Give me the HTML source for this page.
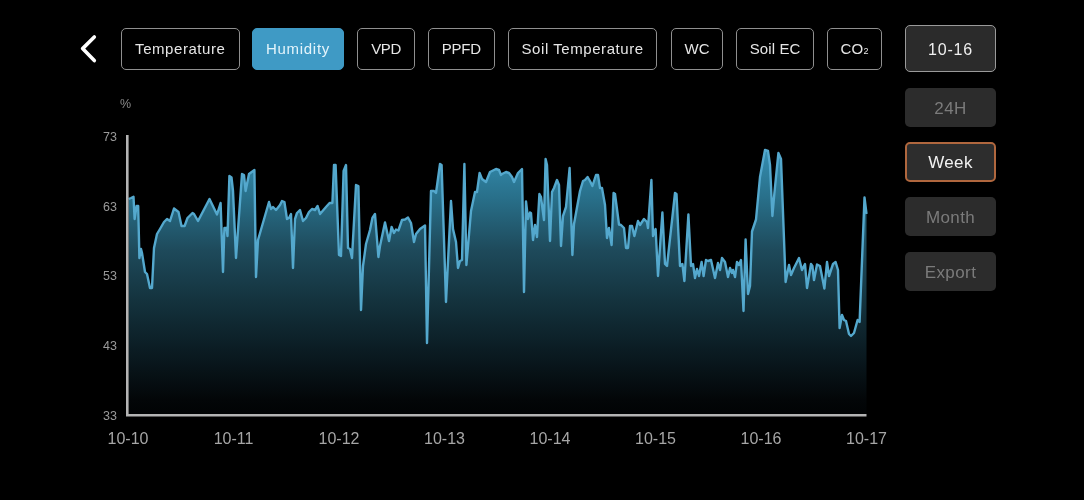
<!DOCTYPE html>
<html><head><meta charset="utf-8">
<style>
html,body{margin:0;padding:0;background:#000;width:1084px;height:500px;overflow:hidden;}
body{position:relative;font-family:"Liberation Sans",sans-serif;-webkit-font-smoothing:antialiased;}
.tab,.date,.side,svg{will-change:transform;}
.tab{position:absolute;top:28px;height:42px;padding-bottom:1.5px;box-sizing:border-box;border:1.5px solid #8f8f8f;border-radius:5px;color:#e6e6e6;font-size:15px;letter-spacing:0.3px;display:flex;align-items:center;justify-content:center;white-space:nowrap;}
.tab.act{background:#3f9ac5;border-color:#3f9ac5;color:#e4f4fb;}
.tab sub{font-size:9px;vertical-align:baseline;position:relative;top:3px;letter-spacing:0}
.date{position:absolute;left:905px;top:25px;width:91px;height:47px;padding-top:2.5px;box-sizing:border-box;border:1.5px solid #9a9a9a;border-radius:5px;background:#2b2b2b;color:#f0f0f0;font-size:16px;letter-spacing:0.85px;display:flex;align-items:center;justify-content:center;}
.side{position:absolute;left:905px;width:91px;box-sizing:border-box;border-radius:5px;background:#2c2c2c;color:#7b7b7b;font-size:17px;letter-spacing:0.4px;padding-top:2px;display:flex;align-items:center;justify-content:center;}
.side.sel{padding-top:1.5px;border:2px solid #b0673e;color:#f2f2f2;background:#2d2d2d;}
svg{position:absolute;left:0;top:0;}
.yl{font-size:12.5px;fill:#9a9a9a;text-anchor:end;}
.xl{font-size:16px;fill:#a6a6a6;text-anchor:middle;}
</style></head><body>
<svg width="1084" height="500" viewBox="0 0 1084 500">
<defs>
<linearGradient id="g" x1="0" y1="135" x2="0" y2="415" gradientUnits="userSpaceOnUse">
<stop offset="0" stop-color="rgb(58,152,190)"/>
<stop offset="0.054" stop-color="rgb(53,142,177)"/>
<stop offset="0.232" stop-color="rgb(40,110,136)"/>
<stop offset="0.411" stop-color="rgb(30,74,91)"/>
<stop offset="0.589" stop-color="rgb(20,51,62)"/>
<stop offset="0.768" stop-color="rgb(11,28,35)"/>
<stop offset="0.946" stop-color="rgb(3,6,8)"/>
<stop offset="1" stop-color="rgb(1,3,4)"/>
</linearGradient>
</defs>
<polyline points="94.3,37 82.6,48.6 94.3,60.6" fill="none" stroke="#fff" stroke-width="3.6" stroke-linecap="round" stroke-linejoin="round"/>
<path d="M128.6 199 L131 198 L133.5 196.8 L134.6 219 L136.6 206 L138.2 206 L139.4 258 L141 249 L142 253 L145 272 L147 274 L150 288 L152 288 L154 248 L157 234 L160 229 L164 222 L167 219 L170 221 L174 208.5 L178.5 212 L181.5 226 L184.6 226 L187.5 218 L192.5 213 L194 214 L198 221 L209.5 199 L217 214.5 L220.6 203 L223 272 L224.4 228 L226.5 228 L227.5 236 L229.4 176 L231.5 177.5 L233 191 L236 258 L242 174 L244 175 L245.6 191 L249 174 L254.4 170 L256 277 L258 240 L269 202 L271 209 L273 207 L276 210 L280 205 L282 201 L284.4 202 L287 219 L289 218 L291 214 L293 268 L295 219 L297 213 L300 210 L303 221 L306 218 L309 212 L312 209 L315 210 L317.6 206 L320 214 L326 207 L329.6 203 L332.4 203 L334 165 L335.6 165 L339 255 L341 256 L343.6 171 L346 165 L348 248 L350 249 L352 258 L356 185 L358.4 186 L361 310 L363 266 L366 244 L370 230 L372.4 218 L375 214 L378.4 257 L380 246 L385 222.5 L389 241 L391.6 227 L394 233 L396 229.5 L398.4 230.5 L402 220 L405 219.5 L408 217.5 L411 223 L414 242 L416 234 L420 229 L425 225.5 L427 343 L431 191 L434 191 L436 193 L440 164 L441.6 165 L446 302 L451 201 L453 229 L456 242 L458 268 L460 261 L462 260 L464.4 164 L466.4 265 L471 211 L475 192 L477 192 L479.6 173 L482 179 L486 182 L490 172 L496 169 L499 170 L501 175 L502 174 L506 172 L509 173 L512 177 L514 182 L518 173 L522 169 L524 292 L526 201.5 L528 219 L530 212.5 L531 213 L533 240 L535 225 L537 237 L539.4 194 L541 197 L542 205 L544 220 L545.6 159 L547 165 L550 241 L552 192 L554 188 L557 180 L559 185 L561 246 L563 216 L566 207 L569.6 168 L572.4 255 L574 224 L576 213 L580 191 L583 181 L585 180 L587.6 177 L590 181 L592.4 186 L596 175 L598 175 L600 188 L602 188 L605 205 L607 238 L609 228 L611.6 245 L613.6 193 L615 194 L619 224.5 L621 225 L624 228 L626 248 L628 248 L630 226 L632 226 L634.4 236 L638 221 L640 225 L644 219 L647 222 L648 228 L651.4 180 L653 236 L655.6 229 L658 276 L662.4 212.5 L665 264 L667 266 L675 193 L676.5 194 L680 266 L682.4 264 L684.4 281 L688.4 214.5 L691 266 L693 264 L695 278 L697 269 L699 276 L701.6 262 L703.6 276 L706 260 L708 261 L711 260 L715 278 L718 263 L720 270 L722 258 L725 262 L728 277 L730 268 L732 273 L733 270 L735 277 L737 262 L739 265 L741 260 L743.5 311 L745.6 239.5 L748 294 L750 286 L752 231.5 L756 219.5 L760 177 L765 150 L768 151 L770 165 L772.4 216 L774.4 193 L778.4 153 L781 159 L785.6 282 L789 265 L791 275 L794 268 L799 258 L802 270 L805 264 L807 288 L811 264 L812.4 266 L814 280 L817 264.5 L820 266 L824.4 288.5 L827 262 L829 276 L831 270 L833 264 L835.6 262 L838 270 L839.6 328 L842 315 L844 320 L846 321 L849 334 L851 336 L854 333 L857.6 320 L859.6 322 L864.5 197.5 L866.5 214 L866.5 415 L128.6 415 Z" fill="url(#g)"/>
<path d="M128.6 199 L131 198 L133.5 196.8 L134.6 219 L136.6 206 L138.2 206 L139.4 258 L141 249 L142 253 L145 272 L147 274 L150 288 L152 288 L154 248 L157 234 L160 229 L164 222 L167 219 L170 221 L174 208.5 L178.5 212 L181.5 226 L184.6 226 L187.5 218 L192.5 213 L194 214 L198 221 L209.5 199 L217 214.5 L220.6 203 L223 272 L224.4 228 L226.5 228 L227.5 236 L229.4 176 L231.5 177.5 L233 191 L236 258 L242 174 L244 175 L245.6 191 L249 174 L254.4 170 L256 277 L258 240 L269 202 L271 209 L273 207 L276 210 L280 205 L282 201 L284.4 202 L287 219 L289 218 L291 214 L293 268 L295 219 L297 213 L300 210 L303 221 L306 218 L309 212 L312 209 L315 210 L317.6 206 L320 214 L326 207 L329.6 203 L332.4 203 L334 165 L335.6 165 L339 255 L341 256 L343.6 171 L346 165 L348 248 L350 249 L352 258 L356 185 L358.4 186 L361 310 L363 266 L366 244 L370 230 L372.4 218 L375 214 L378.4 257 L380 246 L385 222.5 L389 241 L391.6 227 L394 233 L396 229.5 L398.4 230.5 L402 220 L405 219.5 L408 217.5 L411 223 L414 242 L416 234 L420 229 L425 225.5 L427 343 L431 191 L434 191 L436 193 L440 164 L441.6 165 L446 302 L451 201 L453 229 L456 242 L458 268 L460 261 L462 260 L464.4 164 L466.4 265 L471 211 L475 192 L477 192 L479.6 173 L482 179 L486 182 L490 172 L496 169 L499 170 L501 175 L502 174 L506 172 L509 173 L512 177 L514 182 L518 173 L522 169 L524 292 L526 201.5 L528 219 L530 212.5 L531 213 L533 240 L535 225 L537 237 L539.4 194 L541 197 L542 205 L544 220 L545.6 159 L547 165 L550 241 L552 192 L554 188 L557 180 L559 185 L561 246 L563 216 L566 207 L569.6 168 L572.4 255 L574 224 L576 213 L580 191 L583 181 L585 180 L587.6 177 L590 181 L592.4 186 L596 175 L598 175 L600 188 L602 188 L605 205 L607 238 L609 228 L611.6 245 L613.6 193 L615 194 L619 224.5 L621 225 L624 228 L626 248 L628 248 L630 226 L632 226 L634.4 236 L638 221 L640 225 L644 219 L647 222 L648 228 L651.4 180 L653 236 L655.6 229 L658 276 L662.4 212.5 L665 264 L667 266 L675 193 L676.5 194 L680 266 L682.4 264 L684.4 281 L688.4 214.5 L691 266 L693 264 L695 278 L697 269 L699 276 L701.6 262 L703.6 276 L706 260 L708 261 L711 260 L715 278 L718 263 L720 270 L722 258 L725 262 L728 277 L730 268 L732 273 L733 270 L735 277 L737 262 L739 265 L741 260 L743.5 311 L745.6 239.5 L748 294 L750 286 L752 231.5 L756 219.5 L760 177 L765 150 L768 151 L770 165 L772.4 216 L774.4 193 L778.4 153 L781 159 L785.6 282 L789 265 L791 275 L794 268 L799 258 L802 270 L805 264 L807 288 L811 264 L812.4 266 L814 280 L817 264.5 L820 266 L824.4 288.5 L827 262 L829 276 L831 270 L833 264 L835.6 262 L838 270 L839.6 328 L842 315 L844 320 L846 321 L849 334 L851 336 L854 333 L857.6 320 L859.6 322 L864.5 197.5 L866.5 214" fill="none" stroke="#54a8cd" stroke-width="2.4" stroke-linejoin="round"/>
<path d="M127.3 135 L127.3 415.3 L866.5 415.3" fill="none" stroke="#b4b4b4" stroke-width="2.6"/>
<text x="125.5" y="108" style="font-size:12.5px;fill:#8a8a8a;text-anchor:middle">%</text>
<text x="117" y="140.8" class="yl">73</text><text x="117" y="210.5" class="yl">63</text><text x="117" y="280.3" class="yl">53</text><text x="117" y="350.3" class="yl">43</text><text x="117" y="419.5" class="yl">33</text>
<text x="128.0" y="444" class="xl">10-10</text><text x="233.5" y="444" class="xl">10-11</text><text x="339.0" y="444" class="xl">10-12</text><text x="444.5" y="444" class="xl">10-13</text><text x="550.0" y="444" class="xl">10-14</text><text x="655.5" y="444" class="xl">10-15</text><text x="761.0" y="444" class="xl">10-16</text><text x="866.5" y="444" class="xl">10-17</text>
</svg>
<div class="tab" style="left:120.5px;width:118.5px;letter-spacing:0.55px">Temperature</div>
<div class="tab act" style="left:252px;width:92.0px;letter-spacing:0.7px">Humidity</div>
<div class="tab" style="left:357px;width:58.0px;letter-spacing:-0.4px">VPD</div>
<div class="tab" style="left:428.3px;width:66.5px;letter-spacing:-0.2px">PPFD</div>
<div class="tab" style="left:508px;width:149.2px;letter-spacing:0.56px">Soil Temperature</div>
<div class="tab" style="left:670.5px;width:52.2px;letter-spacing:0px">WC</div>
<div class="tab" style="left:736.2px;width:78.2px;letter-spacing:0.1px">Soil EC</div>
<div class="tab" style="left:827.4px;width:54.9px;letter-spacing:0.2px">CO<sub>2</sub></div>

<div class="date">10-16</div>
<div class="side" style="top:87.7px;height:39.1px">24H</div>
<div class="side sel" style="top:142px;height:40.0px">Week</div>
<div class="side" style="top:196.8px;height:39.4px">Month</div>
<div class="side" style="top:251.8px;height:39.2px">Export</div>

</body></html>
